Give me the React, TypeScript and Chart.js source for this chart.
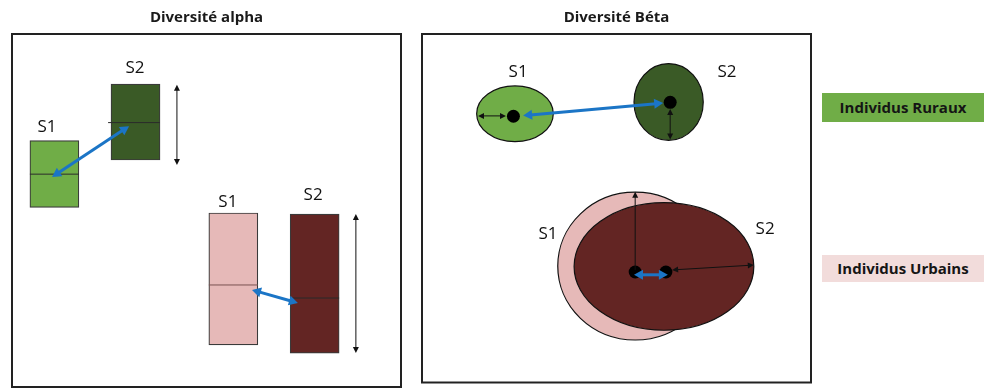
import React, { useEffect, useRef } from "react";
import { Chart, registerables } from "chart.js";

Chart.register(...registerables);

// ---------- data (diagram units: x 0..100 left→right, y 0..100 bottom→top) ----------
const panelTitles = ["Diversité alpha", "Diversité Béta"];

// Alpha diversity boxes
const alphaBoxNames = ["S1", "S2", "S1", "S2"];
const alphaBoxCenters = [10.9, 31.75, 56.9, 77.8];
const alphaBoxLow = [50.9, 64.3, 11.9, 9.6];
const alphaBoxHigh = [69.8, 85.8, 49.3, 49.0];
const alphaMedians = [60.3, 74.9, 28.9, 25.2];
const alphaMedianFrom = [4.6, 24.7, 50.6, 71.5];
const alphaMedianTo = [17.2, 38.0, 63.2, 84.1];
const alphaColors = ["#70ad47", "#3a5a26", "#e6b9b8", "#632523"];
const alphaLabelX = [9.0, 31.6, 55.5, 77.4];
const alphaLabelY = [73.7, 90.4, 52.4, 54.4];
// arrows: [x1, y1, x2, y2]
const alphaRangeArrows = [
  [42.4, 85.6, 42.4, 62.9],
  [88.4, 49.0, 88.4, 9.6],
];
const alphaDistanceArrows = [
  [10.3, 59.5, 30.1, 73.9],
  [61.7, 27.5, 73.5, 23.8],
];

// Beta diversity ellipses
const betaNames = ["S1", "S2", "S1", "S2"];
const betaCenterX = [23.9, 63.4, 54.8, 62.2];
const betaCenterY = [77.1, 80.5, 33.4, 33.3];
const betaRadiusX = [9.85, 8.9, 19.9, 23.1];
const betaRadiusY = [8.0, 11.0, 21.2, 18.3];
const betaColors = ["#70ad47", "#3a5a26", "#e6b9b8", "#632523"];
const betaCentroidX = [23.5, 63.8, 54.8, 62.7];
const betaCentroidY = [76.4, 80.4, 31.7, 31.7];
const betaLabelX = [24.7, 78.4, 32.4, 88.2];
const betaLabelY = [89.0, 89.0, 42.5, 43.9];
// [x1, y1, x2, y2, headAtStart, headAtEnd]
const betaDispersionArrows = [
  [14.4, 76.5, 21.6, 76.5, 1, 1],
  [63.8, 78.5, 63.8, 69.7, 1, 1],
  [54.8, 32.3, 54.8, 54.7, 0, 1],
  [64.3, 32.3, 85.3, 33.7, 1, 1],
];
const betaDistanceArrows = [
  [26.0, 76.6, 62.0, 80.2],
  [54.5, 30.9, 63.2, 30.9],
];

const legendLabels = ["Individus Ruraux", "Individus Urbains"];
const legendColors = ["#70ad47", "#f2dcdb"];

// ---------- styles ----------
const FONT = "'Open Sans', 'DejaVu Sans', sans-serif";
const BLUE = "#1b75c6";

type Arrow = { x1: number; y1: number; x2: number; y2: number; s: boolean; e: boolean; blue: boolean };
type Ell = { x: number; y: number; rx: number; ry: number; color: string };
type Lbl = { x: number; y: number; text: string };

function drawArrow(ctx: CanvasRenderingContext2D, x1: number, y1: number, x2: number, y2: number, a: Arrow) {
  const color = a.blue ? BLUE : "#111";
  const lw = a.blue ? 3 : 1;
  const hl = a.blue ? 9 : 6;
  const hw = a.blue ? 5 : 3;
  const ang = Math.atan2(y2 - y1, x2 - x1);
  const cx = Math.cos(ang), cy = Math.sin(ang);
  let sx = x1, sy = y1, ex = x2, ey = y2;
  if (a.s) { sx += cx * hl * 0.8; sy += cy * hl * 0.8; }
  if (a.e) { ex -= cx * hl * 0.8; ey -= cy * hl * 0.8; }
  ctx.save();
  ctx.strokeStyle = color;
  ctx.fillStyle = color;
  ctx.lineWidth = lw;
  ctx.beginPath();
  ctx.moveTo(sx, sy);
  ctx.lineTo(ex, ey);
  ctx.stroke();
  const head = (tx: number, ty: number, dx: number, dy: number) => {
    ctx.beginPath();
    ctx.moveTo(tx, ty);
    ctx.lineTo(tx - dx * hl - dy * hw, ty - dy * hl + dx * hw);
    ctx.lineTo(tx - dx * hl + dy * hw, ty - dy * hl - dx * hw);
    ctx.closePath();
    ctx.fill();
  };
  if (a.e) head(x2, y2, cx, cy);
  if (a.s) head(x1, y1, -cx, -cy);
  ctx.restore();
}

function makePlugin(ellipses: Ell[], arrows: Arrow[], labels: Lbl[]) {
  return {
    id: "diagram",
    beforeDatasetsDraw(chart: any) {
      const { ctx } = chart;
      const xs = chart.scales.x, ys = chart.scales.y;
      ellipses.forEach((e) => {
        const px = xs.getPixelForValue(e.x), py = ys.getPixelForValue(e.y);
        const rx = Math.abs(xs.getPixelForValue(e.x + e.rx) - px);
        const ry = Math.abs(ys.getPixelForValue(e.y + e.ry) - py);
        ctx.save();
        ctx.beginPath();
        ctx.ellipse(px, py, rx, ry, 0, 0, Math.PI * 2);
        ctx.fillStyle = e.color;
        ctx.fill();
        ctx.lineWidth = 1.2;
        ctx.strokeStyle = "#111";
        ctx.stroke();
        ctx.restore();
      });
    },
    afterDatasetsDraw(chart: any) {
      const { ctx } = chart;
      const xs = chart.scales.x, ys = chart.scales.y;
      arrows.forEach((a) => {
        drawArrow(ctx, xs.getPixelForValue(a.x1), ys.getPixelForValue(a.y1), xs.getPixelForValue(a.x2), ys.getPixelForValue(a.y2), a);
      });
      ctx.save();
      ctx.font = `17px ${FONT}`;
      ctx.fillStyle = "#111";
      ctx.textAlign = "center";
      ctx.textBaseline = "middle";
      labels.forEach((l) => ctx.fillText(l.text, xs.getPixelForValue(l.x), ys.getPixelForValue(l.y)));
      ctx.restore();
    },
    afterDraw(chart: any) {
      const { ctx, chartArea: a } = chart;
      ctx.save();
      ctx.strokeStyle = "#222";
      ctx.lineWidth = 2;
      ctx.strokeRect(a.left, a.top, a.right - a.left, a.bottom - a.top);
      ctx.restore();
    },
  };
}

function baseOptions(title: string) {
  return {
    animation: false as const,
    responsive: false,
    devicePixelRatio: 1,
    events: [],
    layout: { padding: { left: 12, right: 9, top: 0, bottom: 2 } },
    plugins: {
      legend: { display: false },
      tooltip: { enabled: false },
      title: {
        display: true,
        text: title,
        color: "#1a1a1a",
        font: { family: FONT, size: 15, weight: "bold" as const, lineHeight: 1.2 },
        padding: { top: 9, bottom: 7 },
      },
    },
    scales: {
      x: { type: "linear" as const, min: 0, max: 100, display: false, offset: false },
      y: { type: "linear" as const, min: 0, max: 100, display: false },
    },
  };
}

function AlphaPanel() {
  const ref = useRef<HTMLCanvasElement>(null);
  useEffect(() => {
    const arrows: Arrow[] = [
      ...alphaRangeArrows.map((r) => ({ x1: r[0], y1: r[1], x2: r[2], y2: r[3], s: true, e: true, blue: false })),
      ...alphaDistanceArrows.map((r) => ({ x1: r[0], y1: r[1], x2: r[2], y2: r[3], s: true, e: true, blue: true })),
    ];
    const labels: Lbl[] = alphaBoxNames.map((n, i) => ({ x: alphaLabelX[i], y: alphaLabelY[i], text: n }));
    const datasets: any[] = [
      {
        type: "bar",
        label: "boxes",
        data: alphaBoxCenters.map((c, i) => ({ x: c, y: [alphaBoxLow[i], alphaBoxHigh[i]] })),
        backgroundColor: alphaColors,
        borderColor: "#3a3a3a",
        borderWidth: 1.2,
        borderSkipped: false,
        barThickness: 49,
        grouped: false,
        order: 2,
      },
      ...alphaMedians.map((m, i) => ({
        type: "line",
        label: "median " + i,
        data: [
          { x: alphaMedianFrom[i], y: m },
          { x: alphaMedianTo[i], y: m },
        ],
        borderColor: i === 2 ? "#7a5252" : "#2a2a2a",
        borderWidth: 1,
        pointRadius: 0,
        fill: false,
        order: 1,
      })),
    ];
    const chart = new Chart(ref.current!, {
      type: "bar",
      data: { datasets },
      options: baseOptions(panelTitles[0]) as any,
      plugins: [makePlugin([], arrows, labels)],
    });
    return () => chart.destroy();
  }, []);
  return <canvas ref={ref} width={410} height={389} style={{ position: "absolute", left: 0, top: 0 }} />;
}

function BetaPanel() {
  const ref = useRef<HTMLCanvasElement>(null);
  useEffect(() => {
    const ellipses: Ell[] = betaCenterX.map((x, i) => ({ x, y: betaCenterY[i], rx: betaRadiusX[i], ry: betaRadiusY[i], color: betaColors[i] }));
    const arrows: Arrow[] = [
      ...betaDispersionArrows.map((r) => ({ x1: r[0], y1: r[1], x2: r[2], y2: r[3], s: !!r[4], e: !!r[5], blue: false })),
      ...betaDistanceArrows.map((r) => ({ x1: r[0], y1: r[1], x2: r[2], y2: r[3], s: true, e: true, blue: true })),
    ];
    const labels: Lbl[] = betaNames.map((n, i) => ({ x: betaLabelX[i], y: betaLabelY[i], text: n }));
    const chart = new Chart(ref.current!, {
      type: "scatter",
      data: {
        datasets: [
          {
            label: "centroids",
            data: betaCentroidX.map((x, i) => ({ x, y: betaCentroidY[i] })),
            backgroundColor: "#000",
            borderWidth: 0,
            pointRadius: 6.5,
          },
        ],
      },
      options: baseOptions(panelTitles[1]) as any,
      plugins: [makePlugin(ellipses, arrows, labels)],
    });
    return () => chart.destroy();
  }, []);
  return <canvas ref={ref} width={410} height={389} style={{ position: "absolute", left: 410, top: 0 }} />;
}

export default function App() {
  const legendTops = [93, 255];
  const legendHeights = [29, 27];
  return (
    <div style={{ position: "absolute", left: 0, top: 0, width: 984, height: 389, background: "#fff", overflow: "hidden" }}>
      <AlphaPanel />
      <BetaPanel />
      {legendLabels.map((t, i) => (
        <div
          key={t}
          style={{
            position: "absolute",
            left: 822,
            top: legendTops[i],
            width: 162,
            height: legendHeights[i],
            lineHeight: legendHeights[i] + "px",
            background: legendColors[i],
            fontFamily: FONT,
            fontWeight: "bold",
            fontSize: 15,
            color: "#151515",
            textAlign: "center",
          }}
        >
          {t}
        </div>
      ))}
    </div>
  );
}
